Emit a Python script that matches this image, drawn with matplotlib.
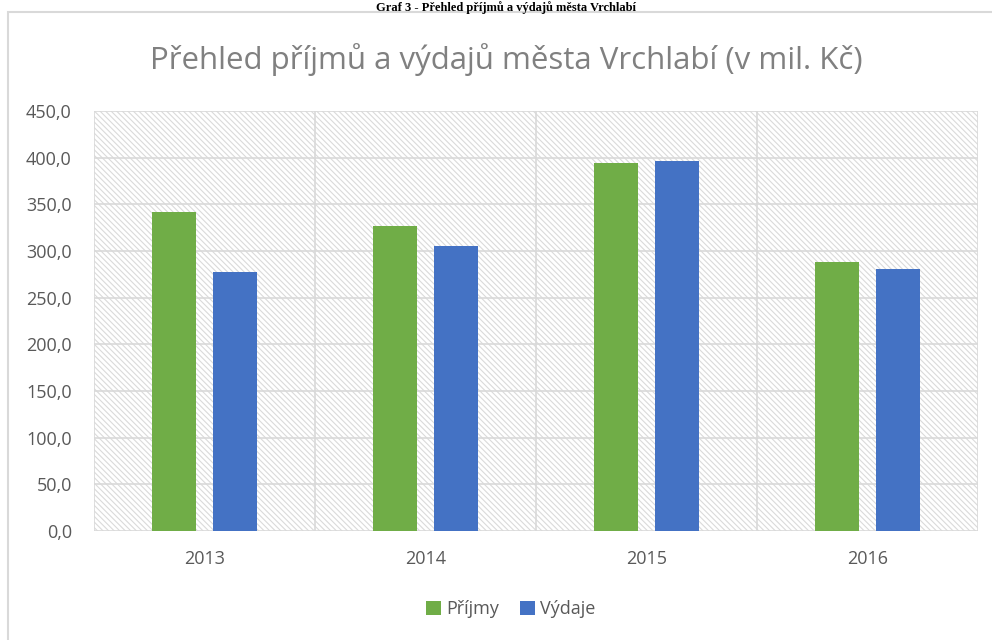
import matplotlib
matplotlib.use("Agg")
import matplotlib.pyplot as plt
from matplotlib.patches import Rectangle
import numpy as np

years = ["2013", "2014", "2015", "2016"]
prijmy = [341.8, 326.8, 394.0, 288.5]
vydaje = [278.0, 305.4, 396.2, 280.8]
yticks = [0, 50, 100, 150, 200, 250, 300, 350, 400, 450]

GREEN = "#70AD47"
BLUE = "#4472C4"
GRID = "#d9d9d9"
TXT = "#595959"
FONT = "Open Sans"

plt.rcParams["hatch.linewidth"] = 0.8
plt.rcParams["hatch.color"] = "#dadada"

fig = plt.figure(figsize=(9.92, 6.4), dpi=100)

# caption above the chart box
fig.text(0.51, 1 - 1 / 640, "Graf 3 - Přehled příjmů a výdajů města Vrchlabí",
         ha="center", va="top", fontsize=9, fontweight="bold",
         family="Liberation Serif", color="black")

# chart frame
fig.patches.append(Rectangle((8 / 992, -0.05), 1.1, 1 - 12 / 640 + 0.05,
                             transform=fig.transFigure, fill=False,
                             edgecolor=GRID, linewidth=1.5))

fig.text(0.51, 1 - 60 / 640, "Přehled příjmů a výdajů města Vrchlabí (v mil. Kč)",
         ha="center", va="center", fontsize=22.5, family=FONT, color="#808080")

ax = fig.add_axes([94 / 992, 1 - 531 / 640, 884 / 992, 420 / 640])
ax.set_xlim(-0.5, 3.5)
ax.set_ylim(0, 450)

# hatched plot area
ax.add_patch(Rectangle((0, 0), 1, 1, transform=ax.transAxes, facecolor="white",
                       hatch="\\" * 6, edgecolor="#dadada", linewidth=0, zorder=0))

for y in yticks:
    ax.axhline(y, color=GRID, linewidth=1.2, zorder=1)
for x in np.arange(-0.5, 4.0, 1.0):
    ax.axvline(x, color=GRID, linewidth=1.2, zorder=1)

x = np.arange(len(years))
ax.bar(x - 0.139, prijmy, width=0.2, color=GREEN, label="Příjmy", zorder=3)
ax.bar(x + 0.139, vydaje, width=0.2, color=BLUE, label="Výdaje", zorder=3)

for s in ax.spines.values():
    s.set_visible(False)

ax.set_yticks(yticks)
ax.set_yticklabels([f"{v:.1f}".replace(".", ",") for v in yticks],
                   fontsize=13, color=TXT, family=FONT)
ax.set_xticks(x)
ax.set_xticklabels(years, fontsize=13, color=TXT, family=FONT)
ax.tick_params(length=0)
ax.tick_params(axis="y", pad=16)
ax.tick_params(axis="x", pad=14)

leg = fig.legend(loc="center", bbox_to_anchor=(0.515, 1 - 609 / 640), ncol=2,
                 frameon=False, prop={"family": FONT, "size": 13},
                 handlelength=0.8, handleheight=0.8, handletextpad=0.3,
                 columnspacing=1.2)
for t in leg.get_texts():
    t.set_color(TXT)

fig.savefig("out.png", dpi=100)
